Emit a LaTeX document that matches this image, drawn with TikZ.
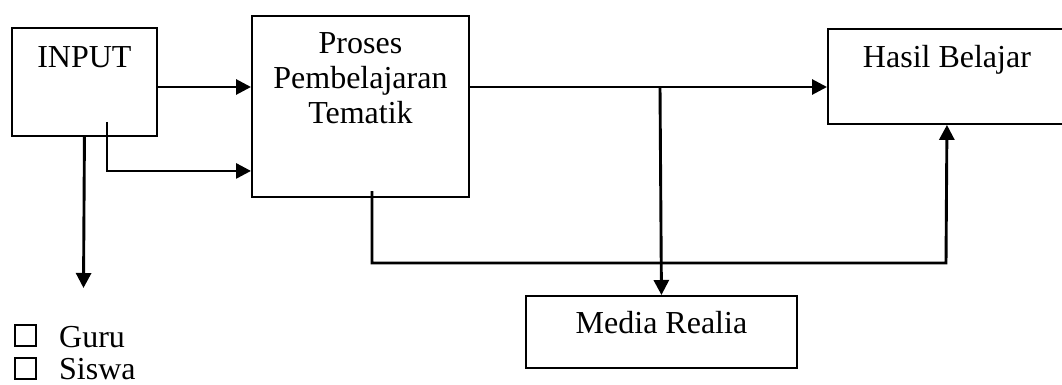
\documentclass[tikz,border=0pt]{standalone}
\usepackage{fontspec}
\setmainfont{Liberation Serif}
\usetikzlibrary{arrows.meta}
\tikzset{
	box/.style={draw, line width=1.9pt, anchor=north west, align=center, inner sep=0pt, font=\fontsize{32}{35}\selectfont},
	flow/.style={line width=2.9pt},
	arrow/.style={flow, -{Triangle[length=15pt,width=15pt]}},
	tickbox/.style={draw, line width=1.4pt, minimum size=21pt, inner sep=0pt},
	item/.style={anchor=base west, inner sep=0pt, font=\fontsize{32}{35}\selectfont}
}
\begin{document}
\begin{tikzpicture}[x=1pt,y=-1pt]
		\clip (0,0) rectangle (1062,385);
		\node[box, minimum width=145pt, text height=40pt, text depth=68pt] (input) at (11,27) {INPUT};
		\node[box, minimum width=217pt, text height=108pt, text depth=73pt] (proses) at (251,15) {Proses\\Pembelajaran\\Tematik};
		\node[box, minimum width=238pt, text height=39pt, text depth=56pt] (hasil) at (827,28) {Hasil Belajar};
		\node[box, minimum width=271pt, text height=38pt, text depth=34pt] (media) at (525,295) {Media Realia};
		\coordinate (split) at (660,87);
		\coordinate (tap) at (107,122);
		\coordinate (member) at (83.5,288);
		\coordinate (loopL) at (372,263);
		\coordinate (loopR) at (946,263);
		\draw[arrow] (input.east |- split) -- (proses.west |- split);
		\draw[arrow] (tap) |- ([yshift=-64.5pt]proses.west);
		\draw[arrow] (input.south) -- (member);
		\draw[arrow] (proses.east |- split) -- (hasil.west |- split);
		\draw[arrow] (split) -- (media.north);
		\draw[arrow] (loopL |- 0,191) -- (loopL) -- (loopR) -- (hasil.south);
		\node[tickbox] (tickguru) at (25.5,335.5) {};
		\node[tickbox] (ticksiswa) at (25.5,368.5) {};
		\node[item] (guru) at (59,347) {Guru};
		\node[item] (siswa) at (59,379.5) {Siswa};
	\end{tikzpicture}
\end{document}
